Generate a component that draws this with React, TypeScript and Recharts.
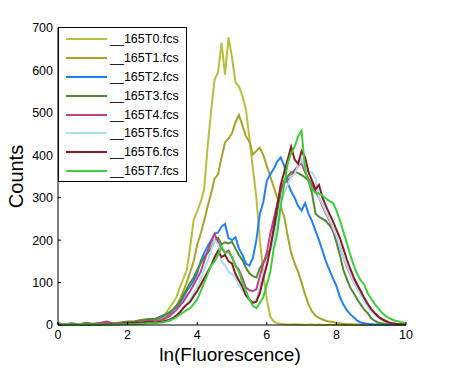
import React from "react";
import { LineChart, Line, XAxis, YAxis, Legend, Label } from "recharts";

const FONT = "'Liberation Sans', Arial, sans-serif";

// fluorescence bins (coarse in the empty low range)
const xs = [
  0, 0.2, 0.4, 0.6, 0.8, 1, 1.2, 1.4, 1.6, 1.8, 2, 2.2, 2.4, 2.6,
  2.8, 2.9,
  3, 3.1, 3.2, 3.3, 3.4, 3.5, 3.6, 3.7, 3.8, 3.9,
  4, 4.1, 4.2, 4.3, 4.4, 4.5, 4.6, 4.7, 4.8, 4.9,
  5, 5.1, 5.2, 5.3, 5.4, 5.5, 5.6, 5.7, 5.8, 5.9,
  6, 6.1, 6.2, 6.3, 6.4, 6.5, 6.6, 6.7, 6.8, 6.9,
  7, 7.1, 7.2, 7.3, 7.4, 7.5, 7.6, 7.7, 7.8, 7.9,
  8, 8.1, 8.2, 8.3, 8.4, 8.5, 8.6, 8.7, 8.8, 8.9,
  9, 9.1, 9.2, 9.3, 9.4, 9.5, 9.6, 9.7, 9.8, 9.9,
  10,
];

const seriesNames = [
  "__165T0.fcs", "__165T1.fcs", "__165T2.fcs", "__165T3.fcs",
  "__165T4.fcs", "__165T5.fcs", "__165T6.fcs", "__165T7.fcs",
];

const colors = [
  "#b7bf3c", "#aaa32a", "#1f7fff", "#4e8c32",
  "#c2417f", "#aadff0", "#8c1c22", "#3ccd3c",
];

const t0 = [
  2, 1, 1, 0, 1, 0, 1, 1, 2, 2, 3, 4, 6, 8,
  12, 15,
  18, 28, 40, 52, 65, 88, 108, 130, 185, 248,
  268, 290, 320, 420, 505, 578, 596, 665, 590, 678,
  630, 572, 562, 540, 508, 440, 370, 300, 200, 120,
  60, 20, 8, 4, 3, 2, 1, 1, 2, 1,
  1, 0, 1, 1, 0, 1, 0, 0, 1, 0,
  0, 1, 0, 0, 1, 0, 0, 0, 0, 1,
  0, 0, 0, 1, 0, 0, 0, 0, 0, 0,
  0,
];
const t1 = [
  1, 1, 0, 1, 0, 1, 1, 2, 2, 3, 4, 5, 7, 9,
  10, 12,
  14, 18, 25, 35, 45, 60, 80, 100, 125, 150,
  190, 215, 245, 280, 310, 345, 355, 395, 430, 440,
  452, 478, 495, 470, 445, 432, 402, 410, 418, 400,
  375, 350, 325, 300, 280, 255, 210, 170, 145, 125,
  100, 72, 48, 32, 22, 17, 13, 10, 8, 7,
  5, 4, 3, 2, 2, 1, 1, 1, 0, 1,
  0, 0, 1, 0, 0, 0, 0, 0, 0, 0,
  0,
];
const t2 = [
  2, 1, 1, 1, 0, 1, 2, 1, 2, 3, 4, 5, 7, 9,
  14, 17,
  20, 24, 28, 35, 42, 52, 65, 80, 92, 105,
  122, 150, 170, 185, 200, 215, 218, 232, 238, 205,
  200, 207, 180, 165, 145, 140, 158, 200, 262, 290,
  340, 355, 368, 385, 395, 375, 335, 315, 300, 280,
  270, 287, 262, 245, 222, 200, 175, 150, 130, 110,
  92, 66, 48, 35, 25, 18, 10, 6, 4, 3,
  2, 1, 1, 1, 0, 1, 0, 0, 0, 0,
  0,
];
const t3 = [
  3, 2, 4, 2, 5, 3, 4, 5, 3, 6, 8, 9, 12, 14,
  15, 18,
  22, 25, 30, 36, 45, 55, 70, 85, 100, 112,
  130, 145, 160, 170, 180, 200, 205, 190, 195, 192,
  196, 180, 165, 153, 135, 122, 115, 112, 134, 146,
  160, 180, 220, 260, 315, 340, 350, 360, 362, 358,
  353, 348, 340, 310, 262, 255, 250, 245, 235, 222,
  195, 165, 130, 108, 88, 75, 60, 48, 36, 28,
  16, 10, 6, 4, 3, 2, 1, 1, 1, 0,
  0,
];
const t4 = [
  4, 2, 1, 2, 1, 2, 5, 8, 3, 4, 5, 6, 8, 10,
  8, 10,
  12, 16, 20, 28, 35, 45, 55, 68, 80, 95,
  110, 125, 150, 175, 195, 215, 195, 180, 170, 175,
  160, 140, 130, 110, 88, 82, 80, 84, 115, 145,
  170, 215, 250, 285, 320, 335, 340, 350, 365, 375,
  380, 360, 345, 330, 315, 300, 280, 262, 247, 225,
  205, 185, 160, 137, 118, 102, 88, 75, 60, 48,
  36, 28, 20, 15, 10, 6, 4, 3, 2, 2,
  1,
];
const t5 = [
  1, 1, 0, 1, 1, 0, 1, 2, 1, 2, 3, 4, 6, 8,
  6, 7,
  8, 10, 12, 16, 22, 30, 40, 50, 60, 75,
  90, 110, 130, 150, 175, 200, 190, 150, 140, 125,
  120, 110, 95, 80, 70, 60, 54, 58, 90, 120,
  150, 175, 200, 240, 290, 310, 330, 350, 355, 375,
  390, 370, 360, 360, 345, 300, 285, 265, 250, 230,
  210, 185, 160, 140, 120, 100, 85, 70, 55, 42,
  32, 24, 18, 12, 8, 5, 4, 3, 2, 1,
  1,
];
const t6 = [
  1, 0, 1, 0, 1, 2, 1, 2, 3, 3, 4, 5, 6, 8,
  6, 7,
  8, 10, 12, 16, 22, 30, 40, 48, 55, 68,
  80, 95, 110, 125, 140, 160, 175, 160, 165, 150,
  145, 120, 105, 90, 70, 60, 52, 55, 75, 110,
  140, 180, 230, 280, 330, 360, 390, 420, 390, 380,
  410, 395, 360, 340, 320, 330, 300, 280, 262, 245,
  225, 205, 180, 155, 132, 112, 95, 80, 64, 50,
  38, 28, 20, 14, 10, 6, 4, 3, 2, 2,
  1,
];
const t7 = [
  1, 1, 1, 0, 1, 1, 1, 1, 1, 2, 2, 2, 3, 4,
  4, 5,
  6, 8, 10, 14, 18, 24, 30, 35, 40, 50,
  60, 80, 100, 120, 140, 150, 165, 185, 170, 172,
  160, 140, 125, 100, 80, 60, 45, 40, 52, 66,
  95, 125, 180, 215, 280, 330, 380, 405, 420, 445,
  458, 365, 340, 320, 311, 310, 305, 298, 292, 288,
  270, 247, 220, 193, 165, 140, 120, 105, 95, 75,
  62, 50, 40, 30, 22, 17, 13, 10, 8, 6,
  5,
];

const series = [t0, t1, t2, t3, t4, t5, t6, t7];
const xTicks = [0, 2, 4, 6, 8, 10];
const yTicks = [0, 100, 200, 300, 400, 500, 600, 700];

const data = xs.map((x, i) => {
  const row: Record<string, number> = { x };
  series.forEach((s, k) => {
    row["s" + k] = s[i];
  });
  return row;
});

const LegendBox = (props: any) => {
  const payload = props.payload || [];
  return (
    <div
      style={{
        border: "1px solid #000",
        background: "#fff",
        width: 129,
        height: 155,
        boxSizing: "border-box",
        paddingTop: 2,
        fontFamily: FONT,
        fontSize: 12.5,
        color: "#000",
      }}
    >
      {payload.map((p: any, i: number) => (
        <div key={i} style={{ display: "flex", alignItems: "center", height: 18.8 }}>
          <svg width={41} height={4} style={{ marginLeft: 7, display: "block" }}>
            <line x1={0} y1={2} x2={41} y2={2} stroke={p.color} strokeWidth={2} />
          </svg>
          <span style={{ marginLeft: 3, whiteSpace: "nowrap" }}>{p.value}</span>
        </div>
      ))}
    </div>
  );
};

const App: React.FC = () => (
  <div style={{ position: "absolute", left: 0, top: 0, background: "#fff" }}>
    <LineChart width={449} height={369} data={data} margin={{ top: 28, right: 43, bottom: 24, left: 0 }}>
      <XAxis
        dataKey="x"
        type="number"
        domain={[0, 10]}
        ticks={xTicks}
        height={20}
        tickSize={-3}
        tickMargin={8}
        axisLine={{ stroke: "#000" }}
        tickLine={{ stroke: "#000" }}
        tick={{ fill: "#000", fontSize: 12.5, fontFamily: FONT }}
      >
        <Label
          content={(p: any) => (
            <text
              x={p.viewBox.x + p.viewBox.width / 2 - 2}
              y={p.viewBox.y + 36}
              textAnchor="middle"
              fontFamily={FONT}
              fontSize={19}
              fill="#000"
            >
              ln(Fluorescence)
            </text>
          )}
        />
      </XAxis>
      <YAxis
        type="number"
        domain={[0, 700]}
        ticks={yTicks}
        width={58}
        tickSize={-3}
        tickMargin={8}
        axisLine={{ stroke: "#000" }}
        tickLine={{ stroke: "#000" }}
        tick={{ fill: "#000", fontSize: 12.5, fontFamily: FONT }}
      >
        <Label
          content={(p: any) => {
            const cx = 23;
            const cy = p.viewBox.y + p.viewBox.height / 2;
            return (
              <text
                x={cx}
                y={cy}
                transform={`rotate(-90, ${cx}, ${cy})`}
                textAnchor="middle"
                fontFamily={FONT}
                fontSize={20}
                fill="#000"
              >
                Counts
              </text>
            );
          }}
        />
      </YAxis>
      <Legend
        layout="vertical"
        align="center"
        verticalAlign="middle"
        content={LegendBox}
        wrapperStyle={{ left: 58, top: 27, width: "auto", height: "auto" }}
      />
      {series.map((_, k) => (
        <Line
          key={k}
          type="linear"
          dataKey={"s" + k}
          name={seriesNames[k]}
          stroke={colors[k]}
          strokeWidth={2}
          dot={false}
          isAnimationActive={false}
        />
      ))}
    </LineChart>
  </div>
);

export default App;
